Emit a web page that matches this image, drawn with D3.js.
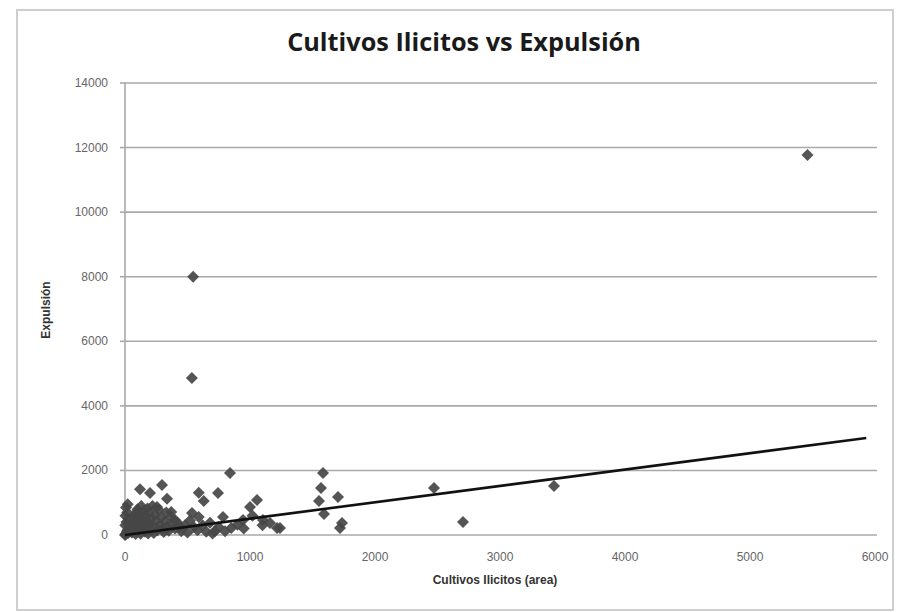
<!DOCTYPE html>
<html><head><meta charset="utf-8">
<script src="https://cdn.jsdelivr.net/npm/d3@7"></script>
<style>body{margin:0;background:#fff}svg{display:block}</style>
</head><body>
<svg id="c" width="899" height="612"></svg>
<script>
const title = "Cultivos Ilicitos vs Expulsión";
const xTitle = "Cultivos Ilicitos (area)";
const yTitle = "Expulsión";
const xTicks = [0,1000,2000,3000,4000,5000,6000];
const yTicks = [0,2000,4000,6000,8000,10000,12000,14000];

// Scatter points: cultivos ilicitos (x) and expulsion (y)
const cultivos = [5460,545,535,1584,1568,1552,1704,1592,1736,1720,2472,2704,3432,1240,
 840,120,296,200,590,744,630,336,256,370,536,590,1056,1000,784,944,720,850,1104,1216,1160,440,400,
 0,2,3,5,8,10,12,15,18,20,22,25,28,30,35,40,45,50,55,60,65,70,75,80,85,90,95,100,105,110,115,120,125,130,135,140,
 150,155,160,165,170,175,180,185,190,200,205,210,220,225,230,240,250,260,270,280,290,300,310,320,330,340,350,370,380,
 400,420,450,480,500,520,550,580,620,650,680,700,750,800,900,950,1020,1100];
const expulsion = [11770,8000,4860,1920,1456,1053,1177,650,372,217,1456,403,1517,217,
 1920,1420,1548,1300,1310,1300,1050,1120,867,712,681,557,1084,867,557,464,120,217,464,217,372,248,464,
 0,300,600,20,850,50,400,100,700,150,950,60,500,200,300,120,400,250,80,500,350,180,600,450,30,700,280,800,550,150,380,650,40,900,220,480,
 750,320,100,580,420,260,820,50,680,350,180,520,900,270,60,620,430,150,780,320,550,200,90,420,700,260,130,560,330,
 200,380,120,300,80,450,250,150,300,100,380,50,250,120,320,200,600,300];
// Linear trend line endpoints
const trendX = [0,5930];
const trendY = [0,3005];

const svg = d3.select("#c");
// outer chart border
svg.append("rect").attr("x",17).attr("y",10).attr("width",876).attr("height",600)
  .attr("fill","#fff").attr("stroke","#cfcfcf").attr("stroke-width",2);

const x = d3.scaleLinear().domain([0,6000]).range([125,875]);
const y = d3.scaleLinear().domain([0,14000]).range([535,83]);

// gridlines
svg.append("g").selectAll("line").data(yTicks).join("line")
  .attr("x1",x(0)).attr("x2",877).attr("y1",d=>y(d)).attr("y2",d=>y(d))
  .attr("stroke","#a9a9a9").attr("stroke-width",1.6);
// y axis line
svg.append("line").attr("x1",x(0)).attr("x2",x(0)).attr("y1",y(14000)).attr("y2",y(0))
  .attr("stroke","#a9a9a9").attr("stroke-width",1.6);
// tick marks
svg.append("g").selectAll("line").data(yTicks).join("line")
  .attr("x1",x(0)-5).attr("x2",x(0)).attr("y1",d=>y(d)).attr("y2",d=>y(d))
  .attr("stroke","#a9a9a9").attr("stroke-width",1.6);

const font = "'Liberation Sans Narrow','Liberation Sans',Arial,sans-serif";
svg.append("g").selectAll("text").data(yTicks).join("text")
  .attr("x",108).attr("y",d=>y(d)+4).attr("text-anchor","end")
  .attr("font-family",font).attr("font-size",12).attr("fill","#666").text(d=>d);
svg.append("g").selectAll("text").data(xTicks).join("text")
  .attr("x",d=>x(d)).attr("y",561).attr("text-anchor","middle")
  .attr("font-family",font).attr("font-size",12).attr("fill","#666").text(d=>d);

// titles
const t = svg.append("text").attr("x",464).attr("y",51).attr("text-anchor","middle")
  .attr("font-family","'Open Sans',Arial,sans-serif").attr("font-weight","bold")
  .attr("font-size",22).attr("fill","#1a1a1a").text(title);
const w = t.node().getComputedTextLength();
t.attr("font-size",22*354/w);
svg.append("text").attr("x",495).attr("y",584).attr("text-anchor","middle")
  .attr("font-family",font).attr("font-weight","bold").attr("font-size",12).attr("fill","#333").text(xTitle);
svg.append("text").attr("transform","translate(50,310) rotate(-90)").attr("text-anchor","middle")
  .attr("font-family",font).attr("font-weight","bold").attr("font-size",12).attr("fill","#333").text(yTitle);

// points
const pts = cultivos.map((c,i)=>({c, e: expulsion[i]}));
svg.append("g").selectAll("path").data(pts).join("path")
  .attr("transform",d=>`translate(${x(d.c)},${y(d.e)})`)
  .attr("d","M0,-6L6,0L0,6L-6,0Z")
  .attr("fill","#474747").attr("fill-opacity",0.92);

// trendline
svg.append("line").attr("x1",x(trendX[0])).attr("y1",y(trendY[0]))
  .attr("x2",x(trendX[1])).attr("y2",y(trendY[1]))
  .attr("stroke","#111").attr("stroke-width",2.6);
</script>
</body></html>
